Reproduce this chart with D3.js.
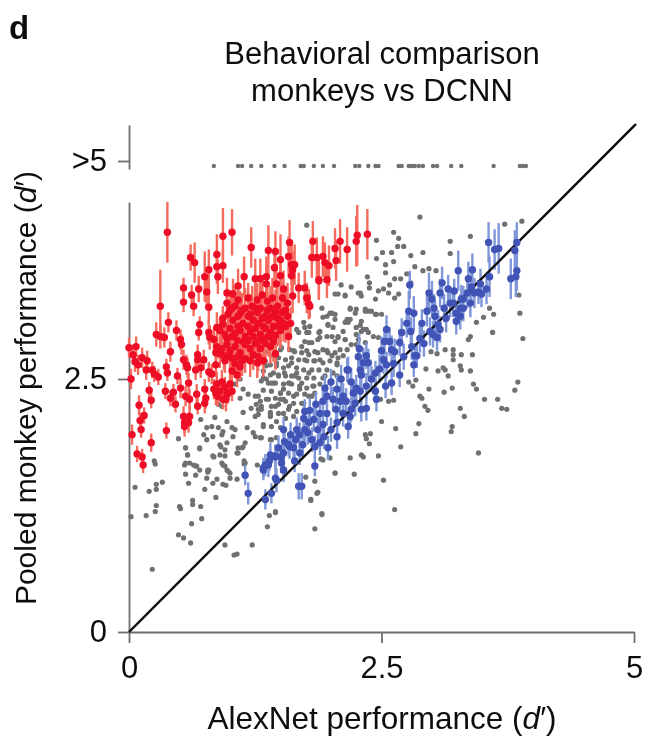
<!DOCTYPE html>
<html><head><meta charset="utf-8">
<script src="https://cdn.jsdelivr.net/npm/d3@7"></script>
<style>html,body{margin:0;padding:0;background:#fff}svg{display:block}
text{font-family:"Liberation Sans",Arial,sans-serif;fill:#111}</style></head>
<body><svg id="c" width="648" height="736"></svg>
<script>
const panelLabel = "d";
const titleLines = ["Behavioral comparison", "monkeys vs DCNN"];
const xTicks = [0, 2.5, 5];
const yTicks = [0, 2.5];
const overflowTick = 5;
const overflowDots = [.84,1.08,1.12,1.21,1.31,1.44,1.54,1.70,1.73,1.83,1.92,2.03,2.24,2.28,2.37,2.44,2.47,2.67,2.70,2.77,2.80,2.83,2.87,2.91,3.01,3.05,3.19,3.29,3.61,3.87,3.90,3.93];

const grayCenter = [[2.88,4.10],[3.72,4.03],[3.89,4.06],[1.76,4.02],[2.62,3.95],[2.67,3.89],[3.38,3.91],[3.18,3.86],[2.45,3.87],[2.66,3.81],[2.72,3.81],[2.91,3.75],[2.79,3.72],[2.51,3.75],[2.60,3.75],[3.18,3.74],[2.45,3.69],[2.54,3.63],[2.62,3.66],[2.83,3.61],[2.75,3.54],[2.97,3.59],[2.91,3.57],[3.04,3.57],[2.54,3.55],[2.69,3.49],[2.63,3.49],[2.36,3.51],[2.38,3.45],[2.38,3.40],[2.79,3.45],[2.58,3.43],[2.47,3.37],[2.52,3.39],[2.29,3.35],[2.14,3.32],[2.20,3.41],[2.10,3.43],[2.67,3.34],[2.57,3.35],[2.63,3.30],[2.44,3.29],[2.07,3.34],[2.19,3.20],[2.25,3.19],[2.34,3.17],[2.40,3.17],[2.45,3.14],[2.50,3.14],[2.01,3.15],[1.96,3.12],[2.04,3.09],[2.16,3.09],[2.17,3.06],[1.97,3.03],[2.29,3.03],[2.30,2.97],[2.35,2.99],[2.25,2.94],[2.01,2.92],[2.07,2.91],[2.14,2.89],[2.25,2.84],[1.89,2.97],[1.79,3.02],[1.76,2.96],[1.68,2.96],[1.73,3.06],[1.71,2.82],[1.78,2.86],[1.87,2.89],[1.96,2.78],[2.01,2.73],[2.09,2.79],[1.87,2.76],[1.76,2.78],[1.63,2.78],[1.50,2.79],[1.74,2.69],[1.84,2.68],[1.92,2.66],[2.06,2.66],[1.61,2.66],[1.46,2.66],[1.36,2.63],[1.43,2.56],[1.54,2.56],[1.66,2.56],[1.78,2.56],[1.94,2.53],[2.06,2.53],[1.33,2.51],[1.41,2.46],[1.58,2.46],[1.71,2.46],[1.82,2.43],[1.50,2.36],[1.63,2.33],[1.78,2.33],[1.38,2.30],[1.53,2.30],[1.84,2.36],[1.45,2.23],[1.59,2.23],[1.73,2.26],[1.31,2.23],[1.40,2.13],[1.53,2.16],[1.63,2.13],[1.33,2.03],[1.46,1.92],[1.41,1.90],[1.30,1.92]];
const grayDense = [[2.04,3.34],[2.14,3.33],[2.27,3.35],[2.30,3.32],[1.91,3.20],[1.99,3.15],[2.04,3.14],[1.92,3.11],[1.97,3.04],[2.02,3.01],[2.19,3.19],[2.24,3.15],[2.34,3.19],[2.44,3.14],[2.37,3.17],[2.19,3.09],[2.14,3.06],[2.30,3.07],[2.25,3.01],[2.32,2.99],[2.37,2.96],[2.42,2.92],[2.47,2.91],[2.12,2.97],[2.07,2.92],[2.04,2.87],[2.14,2.89],[2.20,2.84],[2.27,2.89],[2.34,2.86],[1.66,2.99],[1.74,3.01],[1.78,2.96],[1.74,2.87],[1.81,2.86],[1.88,2.96],[1.89,2.91],[1.96,2.92],[1.84,2.77],[1.92,2.79],[1.97,2.76],[2.04,2.76],[2.07,2.71],[2.12,2.73],[2.16,2.79],[1.64,2.77],[1.71,2.76],[1.78,2.74],[1.59,2.79],[1.51,2.81],[1.45,2.84],[1.38,2.77],[1.43,2.73],[1.48,2.71],[1.55,2.69],[1.61,2.71],[1.68,2.69],[1.76,2.68],[1.83,2.68],[1.89,2.69],[1.99,2.68],[2.06,2.64],[1.35,2.68],[1.40,2.64],[1.46,2.63],[1.53,2.61],[1.58,2.63],[1.66,2.61],[1.73,2.59],[1.81,2.59],[1.88,2.59],[1.96,2.59],[2.02,2.56],[1.33,2.58],[1.40,2.54],[1.48,2.54],[1.55,2.53],[1.61,2.53],[1.68,2.51],[1.76,2.51],[1.83,2.51],[1.92,2.51],[1.31,2.48],[1.38,2.46],[1.45,2.46],[1.53,2.45],[1.61,2.45],[1.69,2.43],[1.76,2.41],[1.83,2.43],[1.89,2.45],[1.33,2.39],[1.41,2.38],[1.50,2.36],[1.58,2.36],[1.66,2.35],[1.74,2.35],[1.81,2.33],[1.28,2.33],[1.36,2.30],[1.45,2.31],[1.55,2.28],[1.63,2.26],[1.71,2.26],[1.26,2.25],[1.31,2.20],[1.41,2.23],[1.48,2.25],[1.58,2.20],[1.66,2.18],[1.48,2.16],[1.28,2.15],[1.40,2.15],[1.55,2.11]];
const grayMiddle = [[1.10,2.50],[1.05,2.45],[1.13,2.40],[1.18,2.35],[1.10,2.31],[.885,2.25],[.92,2.23],[1.30,2.28],[1.25,2.33],[1.40,2.17],[1.50,2.30],[1.59,2.46],[1.43,2.46],[1.36,2.50],[1.48,2.53],[1.53,2.40],[1.64,2.53],[1.69,2.40],[1.21,2.21],[1.28,2.20],[1.25,2.13],[1.13,2.17],[.71,2.10],[.85,2.12],[.82,2.03],[.77,2.02],[.885,2.02],[.97,2.08],[1.02,2.02],[1.05,2.0],[1.17,2.02],[.93,1.98],[.74,1.95],[.77,1.90],[.70,1.82],[.83,1.93],[.92,1.95],[1.03,1.93],[1.23,1.97],[1.31,1.92],[1.40,1.90],[1.33,2.05],[1.41,2.03],[1.46,2.08],[.56,1.82],[.58,1.75],[.55,1.65],[.64,1.65],[.66,1.64],[.79,1.60],[.70,1.60],[.83,1.74],[.90,1.75],[.91,1.83],[.95,1.80],[1.08,1.82],[1.13,1.83],[1.07,1.77],[.93,1.65],[.97,1.60],[1.0,1.57],[1.15,1.67],[1.27,1.65],[1.25,1.93],[1.50,2.02]];
const grayLowLeft = [[.02,1.14],[.17,1.15],[.06,1.43],[.20,1.39],[.27,1.46],[.27,1.41],[.33,1.48],[.25,1.69],[.26,1.66],[.27,1.25],[.26,1.19],[.23,.62],[.49,.96],[.54,.93],[.61,.88],[.62,1.07],[.72,1.12],[.63,1.26],[.63,1.30],[.71,1.24],[.50,1.24],[.51,1.22],[.75,1.41],[.86,1.33],[.59,1.47],[.77,1.52],[.83,1.47],[.87,1.51],[.93,1.46],[.96,1.45],[1.0,1.52],[1.07,1.51],[.98,1.59],[.78,1.60],[.78,1.58],[.66,1.55],[.56,1.56],[.56,1.67],[.60,1.67],[.67,1.64],[.70,1.81],[.58,1.75],[.56,1.82],[.49,1.91],[.84,1.73],[.97,1.87],[.90,1.85],[.95,1.74],[.92,1.67],[.95,1.64],[1.08,1.77],[1.12,1.82],[1.15,1.87],[1.14,1.69],[1.14,1.66],[.95,.86],[1.22,.86],[1.04,.76],[1.07,.77],[1.37,1.04],[1.39,1.15],[1.45,1.19],[1.84,1.02],[1.91,1.17],[1.80,1.30],[1.87,1.38],[2.04,1.57],[1.92,1.70],[1.90,1.71]];
const grayLowRight = [[3.86,3.33],[3.87,3.15],[3.90,2.90],[3.60,2.96],[3.44,3.06],[3.61,3.14],[3.51,3.11],[3.57,3.20],[3.38,2.92],[3.36,2.89],[3.21,2.79],[3.21,2.74],[3.21,2.69],[3.13,2.79],[3.05,2.75],[2.99,2.77],[3.29,2.74],[3.40,2.74],[3.28,2.63],[3.29,2.59],[3.38,2.58],[3.16,2.53],[3.11,2.61],[3.13,2.59],[3.06,2.58],[2.94,2.60],[2.84,2.49],[2.77,2.47],[2.81,2.43],[2.97,2.40],[3.12,2.37],[3.20,2.41],[3.41,2.45],[3.44,2.40],[3.85,2.47],[3.82,2.39],[3.52,2.30],[3.65,2.30],[3.69,2.21],[3.74,2.20],[2.88,2.33],[2.90,2.31],[2.93,2.23],[2.96,2.19],[3.28,2.21],[3.32,2.13],[3.20,2.03],[3.19,1.98],[2.87,2.06],[2.84,1.96],[2.64,2.01],[2.50,2.08],[2.39,1.96],[2.34,1.95],[2.35,1.91],[2.38,1.86],[2.69,1.83],[3.46,1.77],[2.47,1.74],[2.19,1.72],[2.30,1.75],[2.32,1.73],[2.04,1.57],[2.23,1.56],[2.52,1.50],[1.75,1.53],[1.84,1.49],[1.86,1.37],[1.80,1.31],[2.63,1.21],[1.91,1.16],[1.45,1.18],[1.99,1.72],[2.57,2.28],[2.62,2.29],[2.49,2.30]];

const redUpper = [[.38,3.95,.30],[.93,3.91,.28],[1.02,3.95,.23],[1.21,3.80,.2],[.61,3.70,.13],[.65,3.65,.2],[.87,3.73,.2],[.87,3.61,.17],[.93,3.62,.17],[.79,3.58,.2],[.75,3.51,.25],[.88,3.51,.17],[.54,3.40,.1],[.69,3.39,.13],[.62,3.33,.1],[.54,3.26,.1],[.64,3.22,.1],[.77,3.36,.17],[.79,3.21,.17],[.31,3.22,.36],[.39,3.06,.1],[.27,2.94,.12],[.31,2.92,.12],[.35,2.91,.1],[.47,2.98,.1],[.51,2.89,.1],[.52,2.84,.1],[.41,2.77,.1],[.70,3.04,.08],[.69,2.96,.08],[.97,3.35,.15],[1.03,3.34,.15],[1.08,3.42,.17],[1.14,3.51,.2],[1.25,3.49,.2],[1.30,3.49,.2],[1.36,3.51,.2],[1.38,3.77,.25],[1.45,3.76,.2],[1.50,3.68,.25],[1.59,3.85,.22],[1.58,3.71,.2],[1.61,3.63,.2],[1.64,3.63,.2],[1.44,3.60,.2],[1.50,3.52,.2],[1.46,3.44,.2],[1.36,3.44,.18],[1.53,3.39,.18],[1.61,3.52,.18],[1.62,3.58,.18],[1.81,3.70,.2],[1.82,3.86,.2],[1.86,3.70,.2],[1.92,3.71,.2],[1.88,3.48,.2],[1.68,3.40,.15],[1.74,3.40,.17],[1.76,3.30,.15],[1.79,3.22,.12],[1.98,3.62,.2],[1.94,3.65,.2],[2.04,3.79,.2],[2.09,3.86,.22],[2.16,3.78,.22],[2.05,3.67,.2],[2.26,3.92,.3],[2.25,3.86,.25],[2.36,3.93,.25],[1.96,3.48,.18],[1.88,3.47,.18],[1.78,3.24,.15]];
const redLeft = [[0,2.81,.1],[.07,2.82,.1],[.04,2.74,.1],[.06,2.67,.1],[.13,2.71,.1],[.18,2.68,.1],[.09,2.64,.1],[.17,2.59,.1],[.23,2.59,.08],[.25,2.55,.08],[.29,2.52,.08],[.02,2.50,.1],[.37,2.62,.08],[.38,2.56,.08],[.48,2.53,.08],[.20,2.39,.08],[.22,2.29,.08],[.36,2.38,.08],[.41,2.31,.08],[.44,2.37,.08],[.46,2.25,.08],[.10,2.24,.1],[.15,2.14,.08],[.11,2.09,.08],[.03,1.95,.1],[.12,2.0,.08],[.22,1.87,.09],[.08,1.76,.08],[.13,1.73,.08],[.14,1.65,.08],[.37,1.99,.08],[.55,2.03,.1],[.59,2.07,.1],[.51,2.41,.1],[.59,2.46,.1],[.56,2.33,.1],[.60,2.30,.1],[.67,2.35,.1],[.68,2.23,.08],[.75,2.40,.1],[.76,2.31,.1],[.75,2.26,.1],[.54,2.13,.1],[.60,2.13,.1],[.55,2.07,.1],[.54,2.69,.1],[.57,2.64,.1],[.58,2.61,.1],[.68,2.74,.1],[.68,2.69,.1],[.74,2.69,.1],[.66,2.59,.1],[.71,2.61,.1],[.79,2.57,.1],[.79,2.96,.12],[.80,2.91,.12],[.84,2.89,.12],[.87,3.01,.15],[.93,3.04,.15],[.87,2.82,.12],[.86,2.76,.12],[.86,2.64,.12]];
const redBlob = [[.97,3.25,.15],[1.02,3.2,.17],[1.08,3.28,.15],[1.12,3.18,.17],[1.18,3.3,.15],[1.22,3.22,.2],[1.27,3.28,.17],[1.32,3.33,.2],[1.37,3.27,.17],[1.42,3.3,.2],[1.47,3.22,.2],[1.52,3.3,.17],[1.57,3.25,.2],[1.62,3.32,.17],[.93,3.1,.12],[.98,3.14,.14],[1.03,3.08,.16],[1.08,3.12,.15],[1.13,3.05,.18],[1.18,3.12,.15],[1.23,3.08,.17],[1.27,3.16,.18],[1.32,3.1,.2],[1.37,3.18,.18],[1.42,3.12,.2],[1.47,3.1,.18],[1.52,3.16,.2],[1.57,3.12,.18],[1.6,3.05,.16],[.9,2.98,.12],[.95,2.94,.13],[1.0,3.0,.15],[1.05,2.95,.14],[1.1,2.98,.16],[1.15,2.92,.15],[1.2,2.97,.16],[1.25,3.0,.18],[1.3,2.94,.17],[1.35,3.0,.18],[1.4,2.96,.18],[1.45,2.93,.16],[1.5,2.98,.18],[1.55,3.02,.16],[1.58,2.92,.15],[.92,2.8,.12],[.97,2.84,.13],[1.0,2.78,.14],[1.05,2.82,.13],[1.1,2.76,.15],[1.15,2.84,.14],[1.2,2.8,.16],[1.25,2.85,.15],[1.3,2.8,.17],[1.35,2.85,.16],[1.4,2.82,.17],[1.45,2.75,.16],[.95,2.68,.12],[1.0,2.72,.13],[1.05,2.65,.14],[1.1,2.62,.13],[1.15,2.7,.14],[1.2,2.68,.16],[1.28,2.72,.14],[1.33,2.68,.16],[1.02,2.58,.12],[1.07,2.54,.12],[.84,2.4,.1],[.9,2.38,.1],[.95,2.42,.1],[.98,2.36,.1],[.88,2.33,.1],[.93,2.3,.1],[.97,2.35,.1],[1.0,2.45,.1],[.82,2.55,.1]];
const redBlobExtra = [[1.0,3.18,.2],[1.05,3.22,.2],[1.1,3.15,.22],[1.15,3.2,.2],[1.2,3.14,.2],[1.25,3.2,.2],[1.3,3.2,.22],[1.35,3.12,.22],[1.4,3.2,.22],[1.45,3.16,.22],[1.5,3.08,.22],[1.55,3.18,.2],[1.28,3.05,.22],[1.33,3.02,.2],[1.38,3.08,.22],[1.43,3.02,.2],[1.48,3.03,.2],[1.53,3.05,.18],[1.18,3.02,.2],[1.23,2.92,.2],[1.08,3.02,.18],[1.13,2.87,.18],[1.18,2.88,.18],[1.28,2.87,.2],[1.33,2.9,.2],[1.38,2.92,.2],[1.43,2.87,.2],[.97,2.9,.16],[1.02,2.92,.16],[1.07,2.88,.16],[.9,2.75,.14],[.94,2.73,.14],[1.03,2.7,.15],[1.08,2.72,.15],[1.12,2.68,.15],[1.23,2.74,.15],[1.27,2.66,.15],[.87,2.45,.12],[.92,2.47,.12],[.96,2.3,.12],[.86,2.36,.12],[1.02,2.38,.1]];

const bluePoints = [[3.56,3.85,.2],[3.62,3.78,.2],[3.66,3.79,.25],[3.84,3.85,.2],[3.82,3.77,.2],[3.84,3.57,.2],[3.78,3.49,.2],[3.83,3.51,.2],[3.26,3.57,.2],[3.40,3.58,.16],[3.36,3.49,.17],[3.39,3.41,.17],[3.57,3.51,.2],[3.48,3.44,.15],[3.46,3.36,.12],[3.49,3.34,.13],[3.54,3.39,.15],[3.10,3.45,.16],[3.16,3.39,.14],[3.08,3.35,.14],[3.22,3.37,.12],[2.97,3.35,.2],[3.0,3.29,.18],[2.95,3.17,.15],[3.29,3.29,.14],[3.31,3.29,.13],[3.21,3.25,.14],[3.28,3.20,.14],[3.24,3.15,.13],[3.31,3.20,.13],[3.38,3.25,.14],[3.28,3.12,.13],[3.24,3.07,.13],[3.14,3.10,.14],[3.03,3.12,.16],[3.06,3.04,.14],[2.98,2.97,.14],[3.01,2.94,.13],[3.05,2.91,.13],[3.08,2.99,.13],[2.77,3.17,.2],[2.82,3.15,.17],[2.78,3.43,.14],[2.79,2.97,.14],[2.70,2.96,.14],[2.55,2.99,.14],[2.53,2.87,.13],[2.58,2.87,.14],[2.68,2.86,.13],[2.80,2.82,.13],[2.85,2.73,.12],[2.82,2.64,.12],[2.83,2.73,.12],[2.68,2.54,.12],[2.60,2.79,.14],[2.63,2.77,.13],[2.52,2.69,.14],[2.55,2.64,.13],[2.60,2.46,.12],[2.54,2.43,.12],[2.45,2.30,.12],[2.44,2.38,.12],[2.35,2.73,.13],[2.32,2.66,.15],[2.37,2.66,.14],[2.16,2.59,.12],[2.17,2.59,.13],[2.29,2.59,.14],[2.30,2.54,.14],[2.44,2.56,.12],[2.25,2.41,.13],[2.29,2.38,.12],[2.35,2.43,.13],[1.94,2.41,.13],[1.96,2.33,.12],[2.06,2.40,.14],[2.12,2.33,.13],[2.09,2.28,.13],[2.02,2.30,.12],[2.24,2.26,.13],[2.30,2.20,.12],[2.35,2.21,.12],[2.12,2.16,.13],[2.19,2.13,.12],[2.17,2.03,.12],[2.06,2.07,.12],[2.06,1.93,.12],[1.96,2.16,.12],[1.89,2.16,.12],[1.79,2.19,.12],[1.74,2.18,.12],[1.73,2.11,.12],[1.83,2.10,.12],[1.87,2.0,.12],[1.77,1.97,.12],[1.69,1.95,.12],[1.66,2.0,.12],[1.53,2.0,.12],[1.54,1.88,.12],[1.58,1.85,.12],[1.51,1.73,.12],[1.45,1.73,.12],[1.38,1.65,.12],[1.33,1.62,.1],[1.46,1.50,.12],[1.53,1.60,.12],[1.64,1.69,.11],[1.69,1.77,.12],[1.84,1.83,.11],[1.97,1.82,.12],[1.84,1.64,.1],[1.68,1.44,.13],[1.71,1.44,.13],[1.41,1.37,.1],[1.35,1.31,.1],[1.89,1.87,.12],[1.81,1.90,.12],[1.74,2.0,.12],[1.59,1.83,.12],[1.63,1.82,.12],[1.53,1.77,.12],[1.15,1.55,.1],[1.18,1.37,.11],[1.33,1.60,.1],[1.35,1.65,.11],[1.39,1.69,.1],[1.45,1.74,.11],[1.51,1.67,.1],[1.53,1.60,.1],[1.45,1.52,.1]];
const blueExtra = [[2.1,2.5,.14],[2.2,2.47,.14],[2.0,2.47,.13],[2.05,2.2,.13],[2.15,2.28,.13],[2.22,2.36,.13],[1.92,2.28,.13],[1.85,2.25,.12],[2.2,2.2,.12],[1.78,2.07,.12],[1.92,2.05,.12],[1.6,1.95,.12],[1.65,1.9,.12],[1.72,1.85,.12],[1.93,1.93,.12],[2.0,2.0,.12],[1.4,1.75,.12],[1.48,1.82,.12],[2.4,2.5,.13],[2.48,2.6,.14],[2.27,2.72,.14],[2.28,2.8,.15],[2.5,2.78,.14],[2.62,2.65,.13],[2.72,2.72,.13],[2.88,2.9,.14],[2.9,3.05,.14],[2.75,3.05,.14],[3.02,3.2,.14],[3.12,3.2,.14],[3.18,3.25,.14],[3.35,3.35,.15],[3.42,3.35,.15],[2.92,2.85,.13]];

const gray = [...grayCenter, ...grayDense, ...grayMiddle, ...grayLowLeft, ...grayLowRight];
const red = [...redLeft, ...redUpper, ...redBlob, ...redBlobExtra];
const blue = [...bluePoints, ...blueExtra];

const svg = d3.select("#c");
const defs = svg.append("defs");
defs.append("filter").attr("id","soft").append("feGaussianBlur").attr("stdDeviation",0.55);
defs.append("filter").attr("id","softText").append("feGaussianBlur").attr("stdDeviation",0.35);

const x = d3.scaleLinear().domain([0,5]).range([129,634]);
const y = d3.scaleLinear().domain([0,5]).range([632,126]);
const yAxisScale = d3.scaleLinear().domain([0,4.25]).range([y(0),y(4.25)]);
const yOver = d3.scaleLinear().domain([4.92,5.36]).range([169,125]);
const yOverBase = 4.95;

const root = svg.append("g").attr("filter","url(#soft)");
const lab = svg.append("g").attr("filter","url(#softText)");

function styleAxis(g){
  g.selectAll("path,line").attr("stroke","#6d6e71").attr("stroke-width",1.8);
  g.selectAll("text").attr("fill","#111").attr("font-size",31).attr("font-family","Liberation Sans, Arial, sans-serif");
}
const fmt = d => d===2.5 ? "2.5" : String(d);
root.append("g").attr("transform",`translate(0,${y(0)})`)
  .call(d3.axisBottom(x).tickValues(xTicks).tickFormat(fmt).tickSize(11).tickPadding(13).tickSizeOuter(0))
  .call(styleAxis);
root.append("g").attr("transform",`translate(${x(0)},0)`)
  .call(d3.axisLeft(yAxisScale).tickValues(yTicks).tickFormat(fmt).tickSize(11).tickPadding(11).tickSizeOuter(0))
  .call(styleAxis);
root.append("g").attr("transform",`translate(${x(0)},0)`)
  .call(d3.axisLeft(yOver).tickValues([overflowTick]).tickFormat(d=>">"+d).tickSize(11).tickPadding(11).tickSizeOuter(0))
  .call(styleAxis);

const R_GRAY = 2.6, R_DOT = 3.7;
root.append("g").selectAll("circle").data(gray).join("circle")
  .attr("cx",d=>x(d[0])).attr("cy",d=>y(d[1])).attr("r",R_GRAY).attr("fill","#6e7072");
root.append("g").selectAll("circle").data(overflowDots).join("circle")
  .attr("cx",d=>x(d)).attr("cy",yOver(yOverBase)).attr("r",2.2).attr("fill","#6e7072");

function bars(data,color){
  root.append("g").selectAll("line").data(data).join("line")
    .attr("x1",d=>x(d[0])).attr("x2",d=>x(d[0]))
    .attr("y1",d=>y(d[1]-d[2])).attr("y2",d=>y(d[1]+d[2]))
    .attr("stroke",color).attr("stroke-width",2.4);
}
function dots(data,color){
  root.append("g").selectAll("circle").data(data).join("circle")
    .attr("cx",d=>x(d[0])).attr("cy",d=>y(d[1])).attr("r",R_DOT).attr("fill",color);
}
bars(blue,"#7f97d8");
root.append("line").attr("x1",x(0)).attr("y1",y(0)).attr("x2",x(5.02)).attr("y2",y(5.02))
  .attr("stroke","#111").attr("stroke-width",2.4);
dots(blue,"#4253b6");
bars(red,"#f56a5c");
dots(red,"#ee0a26");

lab.append("text").attr("x",9).attr("y",39).attr("font-size",33).attr("font-weight","bold").attr("fill","#000").text(panelLabel);
lab.selectAll(".t").data(titleLines).join("text").attr("class","t")
  .attr("x",382).attr("y",(d,i)=>64+i*37).attr("text-anchor","middle").attr("font-size",31).text(d=>d);
const xl = lab.append("text").attr("x",382).attr("y",729).attr("text-anchor","middle").attr("font-size",31.5);
xl.append("tspan").text("AlexNet performance (");
xl.append("tspan").attr("font-style","italic").text("d");
xl.append("tspan").text("′)");
const yl = lab.append("text").attr("transform","translate(36,388) rotate(-90)").attr("text-anchor","middle").attr("font-size",30);
yl.append("tspan").text("Pooled monkey performance (");
yl.append("tspan").attr("font-style","italic").text("d");
yl.append("tspan").text("′)");
</script></body></html>
